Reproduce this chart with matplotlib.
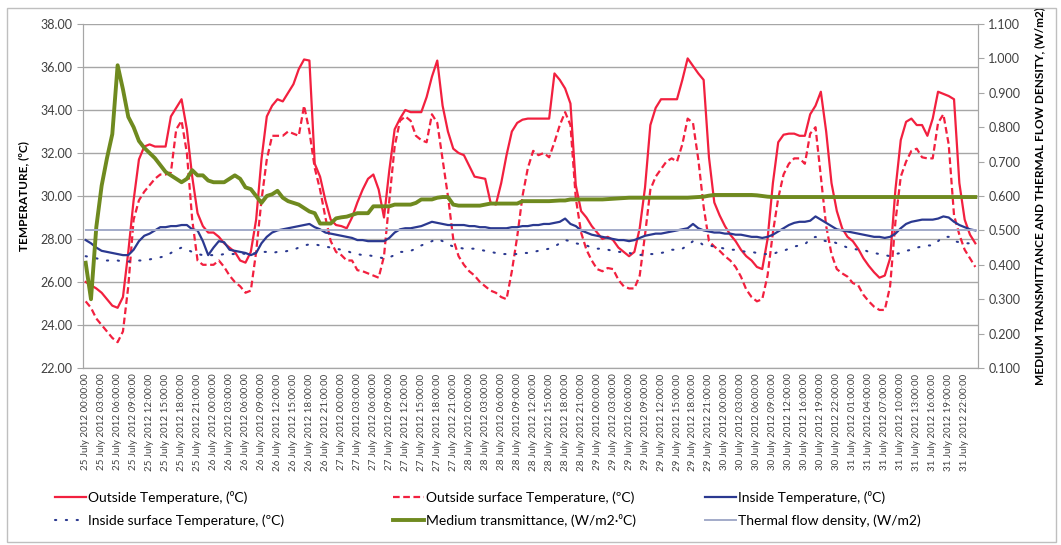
import matplotlib.pyplot as plt
from matplotlib.patches import Rectangle

plt.rcParams['font.family'] = ['Lato', 'DejaVu Sans']

# hourly readings, 25-31 July 2012
outside_temp = [
    26.0, 25.85, 25.7, 25.5, 25.2, 24.9, 24.8, 25.3, 27.4, 29.8,
    31.7, 32.3, 32.4, 32.3, 32.3, 32.3, 33.7, 34.1, 34.5, 33.1,
    30.9, 29.2, 28.6, 28.3, 28.3, 28.1, 27.8, 27.6, 27.4, 27.0,
    26.9, 27.4, 28.9, 31.7, 33.7, 34.2, 34.5, 34.4, 34.8, 35.2,
    35.9, 36.35, 36.3, 31.5, 30.9, 29.8, 28.9, 28.65, 28.6, 28.5,
    29.0, 29.7, 30.3, 30.8, 31.0, 30.3, 29.0, 31.2, 33.1, 33.6,
    34.0, 33.9, 33.9, 33.9, 34.6, 35.55, 36.3, 34.2, 33.0, 32.2,
    32.0, 31.9, 31.4, 30.9, 30.85, 30.8, 29.7, 29.6, 30.6, 31.9,
    33.0, 33.4, 33.55, 33.6, 33.6, 33.6, 33.6, 33.6, 35.7, 35.4,
    35.0, 34.3, 30.5, 29.3, 29.0, 28.6, 28.3, 28.0, 28.1, 27.95,
    27.6, 27.4, 27.2, 27.4, 28.5, 30.4, 33.3, 34.1, 34.5, 34.5,
    34.5, 34.5, 35.4, 36.4, 36.05, 35.7, 35.4, 31.8, 29.7, 29.1,
    28.6, 28.2, 27.9, 27.5, 27.2, 27.0, 26.7, 26.6, 28.0, 30.6,
    32.5, 32.85, 32.9, 32.9, 32.8, 32.8, 33.8, 34.2, 34.85, 33.0,
    30.6, 29.3, 28.5, 28.1, 27.9, 27.55, 27.1, 26.75, 26.45, 26.2,
    26.3, 27.1, 30.3, 32.6, 33.45, 33.6, 33.3, 33.3, 32.8, 33.6,
    34.85, 34.75, 34.65, 34.5, 30.6, 28.9, 28.2, 27.8,
]

outside_surface_temp = [
    25.1, 24.8, 24.3, 24.0, 23.7, 23.4, 23.2, 23.7, 25.8, 28.9,
    29.8, 30.2, 30.5, 30.8, 31.0, 31.0, 31.1, 33.1, 33.5, 32.0,
    28.9, 27.0, 26.8, 26.8, 26.8, 27.0, 26.7, 26.3, 26.0, 25.8,
    25.5, 25.6, 27.4, 29.8, 31.7, 32.8, 32.8, 32.8, 33.0, 32.9,
    32.8, 34.2, 33.0, 31.3, 30.3, 29.0, 27.9, 27.4, 27.25, 27.0,
    27.0, 26.55, 26.5, 26.4, 26.3, 26.2, 27.2, 29.8, 32.3, 33.5,
    33.7, 33.5, 32.8, 32.6, 32.5, 33.8, 33.4, 31.7, 30.0, 28.0,
    27.2, 26.8, 26.5, 26.3, 26.0, 25.8, 25.6, 25.5, 25.3, 25.2,
    26.5, 28.1, 30.0, 31.3, 32.1, 31.9, 32.0, 31.8, 32.5, 33.3,
    33.9, 33.3, 29.9, 28.3, 27.5, 27.0, 26.6, 26.5, 26.65, 26.6,
    26.1, 25.8, 25.7, 25.7, 26.3, 28.2, 30.3, 30.9, 31.25, 31.6,
    31.75, 31.6, 32.4, 33.6, 33.4, 31.7, 29.5, 27.9, 27.65, 27.45,
    27.2, 27.0, 26.7, 26.25, 25.65, 25.3, 25.1, 25.2, 26.3, 28.3,
    29.9, 31.0, 31.5, 31.75, 31.75, 31.5, 32.9, 33.2, 30.9, 28.6,
    27.3, 26.6, 26.4, 26.25, 25.95, 25.85, 25.4, 25.1, 24.85, 24.7,
    24.7, 25.8, 28.8, 30.9, 31.6, 32.1, 32.2, 31.8, 31.75, 31.75,
    33.4, 33.8, 32.4, 29.1, 28.2, 27.5, 27.1, 26.7,
]

inside_temp = [
    27.95, 27.8, 27.6, 27.45, 27.4, 27.35, 27.3, 27.25, 27.25, 27.5,
    27.9, 28.15, 28.25, 28.4, 28.55, 28.55, 28.6, 28.6, 28.65, 28.65,
    28.45, 28.4, 27.9, 27.25, 27.6, 27.9, 27.85, 27.5, 27.45, 27.4,
    27.35, 27.25, 27.35, 27.8, 28.1, 28.3, 28.4, 28.45, 28.5, 28.55,
    28.6, 28.65, 28.7, 28.55, 28.45, 28.3, 28.25, 28.2, 28.15, 28.1,
    28.05, 27.95, 27.95, 27.9, 27.9, 27.9, 27.9, 28.05, 28.3, 28.45,
    28.5, 28.5, 28.55, 28.6, 28.7, 28.8, 28.75, 28.7, 28.65, 28.65,
    28.65, 28.65, 28.6, 28.6, 28.55, 28.55, 28.5, 28.5, 28.5, 28.5,
    28.55, 28.55, 28.6, 28.6, 28.65, 28.65, 28.7, 28.7, 28.75, 28.8,
    28.95, 28.7, 28.6, 28.4, 28.3, 28.2, 28.15, 28.1, 28.05, 28.0,
    27.95, 27.95, 27.9, 27.95, 28.05, 28.15, 28.2, 28.25, 28.25, 28.3,
    28.35, 28.4, 28.45, 28.5, 28.7, 28.5, 28.4, 28.35, 28.3, 28.3,
    28.25, 28.25, 28.2, 28.2, 28.15, 28.1, 28.1, 28.05, 28.1, 28.2,
    28.35, 28.5, 28.65, 28.75, 28.8, 28.8, 28.85, 29.05, 28.9, 28.75,
    28.6, 28.45, 28.4, 28.35, 28.3, 28.25, 28.2, 28.15, 28.1, 28.1,
    28.05, 28.1, 28.25, 28.5, 28.7, 28.8, 28.85, 28.9, 28.9, 28.9,
    28.95, 29.05, 29.0, 28.8, 28.65, 28.55, 28.45, 28.4,
]

inside_surface_temp = [
    27.2, 27.15, 27.1, 27.05, 27.0, 27.0, 27.0, 26.95, 26.95, 27.0,
    27.0, 27.0, 27.05, 27.1, 27.15, 27.2, 27.35, 27.5, 27.6, 27.5,
    27.4, 27.3, 27.25, 27.25, 27.25, 27.25, 27.3, 27.3, 27.3, 27.35,
    27.3, 27.3, 27.35, 27.4, 27.4, 27.35, 27.4, 27.4, 27.45, 27.5,
    27.6, 27.7, 27.75, 27.75, 27.7, 27.65, 27.6, 27.55, 27.5, 27.45,
    27.35, 27.3, 27.25, 27.25, 27.2, 27.15, 27.1, 27.15, 27.25, 27.4,
    27.4, 27.45, 27.55, 27.7, 27.8, 27.9, 28.0, 27.9, 27.75, 27.65,
    27.6, 27.55, 27.55, 27.55, 27.5, 27.45, 27.4, 27.35, 27.3, 27.3,
    27.3, 27.3, 27.35, 27.35, 27.4, 27.45, 27.5, 27.55, 27.65, 27.8,
    27.95, 27.9, 27.8, 27.75, 27.7, 27.6, 27.55, 27.55, 27.5, 27.45,
    27.4, 27.4, 27.35, 27.3, 27.25, 27.3, 27.3, 27.3, 27.35, 27.4,
    27.5, 27.5, 27.55, 27.7, 27.9, 27.9, 27.7, 27.7, 27.65, 27.6,
    27.55, 27.5, 27.5, 27.45, 27.4, 27.4, 27.35, 27.3, 27.3, 27.3,
    27.4, 27.45, 27.55, 27.65, 27.7, 27.75, 28.0, 28.1, 27.95, 27.9,
    27.9, 27.8, 27.7, 27.6, 27.55, 27.5, 27.5, 27.4, 27.35, 27.3,
    27.25, 27.2, 27.3, 27.35, 27.45, 27.5, 27.6, 27.65, 27.7, 27.7,
    27.9, 28.1, 28.1, 27.9, 27.85, 27.8, 27.8, 27.75,
]

medium_transmittance = [
    0.406, 0.300, 0.510, 0.630, 0.710, 0.780, 0.980, 0.910, 0.830, 0.800,
    0.760, 0.740, 0.725, 0.710, 0.690, 0.670, 0.660, 0.650, 0.640, 0.650,
    0.675, 0.660, 0.660, 0.645, 0.640, 0.640, 0.640, 0.650, 0.660, 0.650,
    0.625, 0.620, 0.600, 0.580, 0.600, 0.605, 0.615, 0.595, 0.585, 0.580,
    0.575, 0.565, 0.555, 0.550, 0.520, 0.520, 0.520, 0.535, 0.538, 0.540,
    0.545, 0.550, 0.550, 0.550, 0.570, 0.570, 0.570, 0.570, 0.575, 0.575,
    0.575, 0.575, 0.580, 0.590, 0.590, 0.590, 0.595, 0.597, 0.597, 0.575,
    0.572, 0.572, 0.572, 0.572, 0.572, 0.575, 0.578, 0.578, 0.578, 0.578,
    0.578, 0.578, 0.585, 0.585, 0.585, 0.585, 0.585, 0.585, 0.586, 0.587,
    0.587, 0.590, 0.590, 0.590, 0.590, 0.590, 0.590, 0.590, 0.591, 0.592,
    0.593, 0.594, 0.595, 0.595, 0.595, 0.595, 0.595, 0.595, 0.595, 0.595,
    0.595, 0.595, 0.595, 0.595, 0.596, 0.597, 0.598, 0.601, 0.603, 0.603,
    0.603, 0.603, 0.603, 0.603, 0.603, 0.603, 0.602, 0.600, 0.598, 0.597,
    0.597, 0.597, 0.597, 0.597, 0.597, 0.597, 0.597, 0.597, 0.597, 0.597,
    0.597, 0.597, 0.597, 0.597, 0.597, 0.597, 0.597, 0.597, 0.597, 0.597,
    0.597, 0.597, 0.597, 0.597, 0.597, 0.597, 0.597, 0.597, 0.597, 0.597,
    0.597, 0.597, 0.597, 0.597, 0.597, 0.597, 0.597, 0.597,
]

thermal_flow = [0.500] * len(outside_temp)

# category labels, one every three readings (one hour missing on 30 July)
label_days = [25] * 8 + [26] * 8 + [27] * 8 + [28] * 8 + [29] * 8 + [30] * 8 + [31] * 8
label_hours = ([0, 3, 6, 9, 12, 15, 18, 21] * 5
               + [0, 3, 6, 9, 12, 16, 19, 22]
               + [1, 4, 7, 10, 13, 16, 19, 22])
tick_labels = [f"{d} July 2012 {h:02d}:00:00" for d, h in zip(label_days, label_hours)]

x = list(range(len(outside_temp)))

red = '#f2203f'
blue = '#2b3990'
green = '#6f8a1f'
grid_col = '#a6a6a6'

fig = plt.figure(figsize=(10.61, 5.45), dpi=100)
ax = fig.add_axes([83 / 1061, 1 - 368 / 545, (978 - 83) / 1061, 344 / 545])
ax2 = ax.twinx()

l_out, = ax.plot(x, outside_temp, color=red, lw=1.6)
l_out_s, = ax.plot(x, outside_surface_temp, color=red, lw=1.6, dashes=(3, 1.6))
l_in, = ax.plot(x, inside_temp, color=blue, lw=1.6)
l_in_s, = ax.plot(x, inside_surface_temp, color=blue, lw=1.5, dashes=(0.6, 4.6),
                  dash_capstyle='round')
l_tr, = ax2.plot(x, medium_transmittance, color=green, lw=2.8)
l_fl, = ax2.plot(x, thermal_flow, color='#a3abc9', lw=1.4)

ax.set_ylim(22, 38)
ax.set_yticks([22, 24, 26, 28, 30, 32, 34, 36, 38])
ax.set_yticklabels([f"{v:.2f}" for v in ax.get_yticks()])
ax2.set_ylim(0.1, 1.1)
ax2.set_yticks([0.1, 0.2, 0.3, 0.4, 0.5, 0.6, 0.7, 0.8, 0.9, 1.0, 1.1])
ax2.set_yticklabels([f"{v:.3f}" for v in ax2.get_yticks()])

ax.set_xlim(-0.5, len(x) - 0.5)
ax.set_xticks(x[::3])
ax.set_xticklabels(tick_labels, rotation=90, fontsize=7, color='#404040')

ax.yaxis.grid(True, color=grid_col, lw=1)
ax.set_axisbelow(True)

for a in (ax, ax2):
    for s in a.spines.values():
        s.set_color(grid_col)
    a.spines['top'].set_visible(False)
    a.tick_params(axis='y', labelsize=9, colors='#404040', length=4, color=grid_col)
ax.tick_params(axis='x', length=0, pad=4)

ax.set_ylabel('TEMPERATURE, (\u00baC)', fontsize=8.5, fontweight='bold', labelpad=8)
ax2.set_ylabel('MEDIUM TRANSMITTANCE AND THERMAL FLOW DENSITY, (W/m2)',
               fontsize=8.5, fontweight='bold', labelpad=10)

# legend laid out as three columns, filled row by row
legend_cols = [
    ([l_out, l_in_s], ['Outside Temperature, (\u2070C)', 'Inside surface Temperature, (\u00baC)'], 55),
    ([l_out_s, l_tr], ['Outside surface Temperature, (\u00baC)', 'Medium transmittance, (W/m2\u00b7\u2070C)'], 393),
    ([l_in, l_fl], ['Inside Temperature, (\u2070C)', 'Thermal flow density, (W/m2)'], 705),
]
for handles, labels, left in legend_cols:
    fig.legend(handles, labels, loc='upper left',
               bbox_to_anchor=(left / 1061, 1 - 491 / 545), frameon=False,
               fontsize=10, handlelength=2.2, handletextpad=0.2,
               borderpad=0, borderaxespad=0, labelspacing=0.75)

fig.patches.append(Rectangle((7 / 1061, 3 / 545), 1049 / 1061, 534 / 545,
                             transform=fig.transFigure, fill=False,
                             edgecolor='#bfbfbf', lw=1))

fig.savefig('out.png', dpi=100)
